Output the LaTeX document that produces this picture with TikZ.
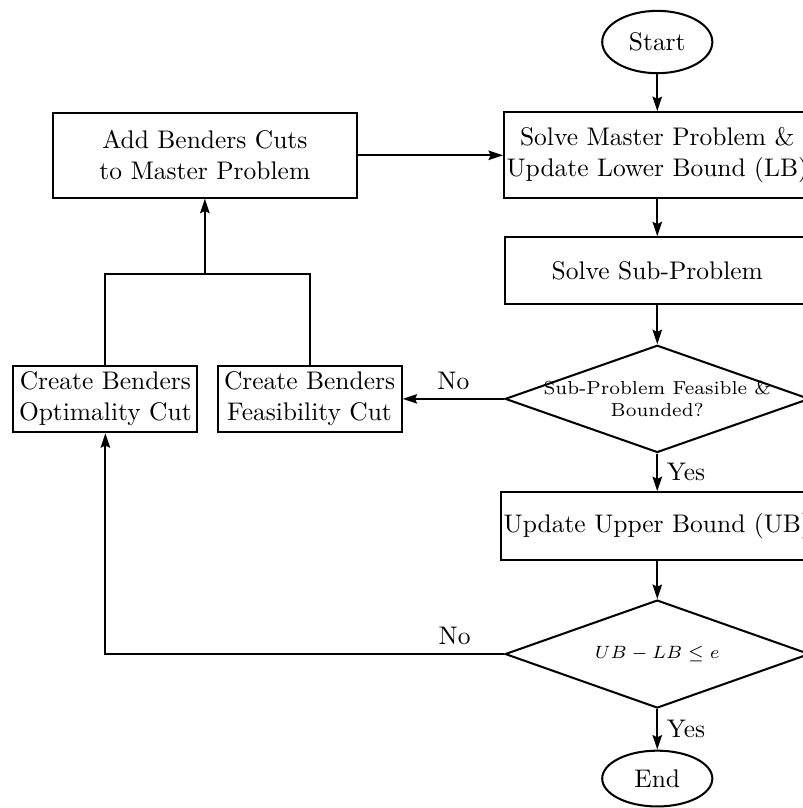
\documentclass[tikz,border=0pt]{standalone}
\usepackage{amsmath,amssymb}
\usepackage{tikz}
\usetikzlibrary{shapes.geometric, arrows.meta, positioning, calc}
\tikzset{
  % Box styles
  termnode/.style={ellipse, draw, thick, minimum width=1.52cm, minimum height=0.86cm, align=center},
  processbox/.style={rectangle, draw, thick, minimum width=4.2cm, minimum height=0.92cm, inner xsep=1pt, align=center},
  cutbox/.style={rectangle, draw, thick, minimum width=2.54cm, minimum height=0.92cm, inner sep=2pt, align=center},
  decisionbox/.style={diamond, draw, thick, minimum width=4.2cm, minimum height=1.48cm, aspect=2.84, inner sep=0pt, inner xsep=-10pt, font=\fontsize{7.4pt}{9pt}\selectfont, align=center},
  % Arrow styles
  arrow/.style={->, >={Stealth[length=2mm, width=1.3mm, inset=0.3mm]}, thick},
  line/.style={thick}
}
\begin{document}
\begin{tikzpicture}
  \useasboundingbox (0,0) rectangle (11.07,-11.15);

  % Main column
  \node[termnode] (start) at (9.07,-0.58) {Start};
  \node[processbox, minimum height=1.19cm, below=0.51cm of start] (master) {Solve Master Problem \&\\Update Lower Bound (LB)};
  \node[processbox, below=0.51cm of master] (sub) {Solve Sub-Problem};
  \node[decisionbox, below=0.54cm of sub] (feas) {Sub-Problem Feasible \&\\Bounded?};
  \node[processbox, minimum height=0.94cm, below=0.52cm of feas] (upper) {Update Upper Bound (UB)};
  \node[decisionbox, minimum height=1.49cm, below=0.52cm of upper] (gap) {$UB - LB \leq e$};
  \node[termnode, minimum height=0.77cm, below=0.56cm of gap] (end) {End};

  % Cut generation
  \node[processbox, minimum height=1.17cm, left=2.0cm of master] (addcuts) {Add Benders Cuts\\to Master Problem};
  \node[cutbox, left=1.40cm of feas] (feascut) {Create Benders\\Feasibility Cut};
  \node[cutbox, left=0.25cm of feascut] (optcut) {Create Benders\\Optimality Cut};
  \coordinate[below=1.04cm of addcuts.south] (merge);

  % Connectors
  \draw[arrow] (start) -- (master);
  \draw[arrow] (master) -- (sub);
  \draw[arrow] (sub) -- (feas);
  \draw[arrow] (feas) -- node[right] {Yes} (upper);
  \draw[arrow] (upper) -- (gap);
  \draw[arrow] (gap) -- node[right] {Yes} (end);
  \draw[arrow] (feas) -- node[above] {No} (feascut);
  \draw[arrow] (gap.west) -| node[above, pos=0.062] {No} (optcut.south);
  \draw[line] (optcut.north) |- (merge) -| (feascut.north);
  \draw[arrow] (merge) -- (addcuts.south);
  \draw[arrow] (addcuts) -- (master);
\end{tikzpicture}
\end{document}
